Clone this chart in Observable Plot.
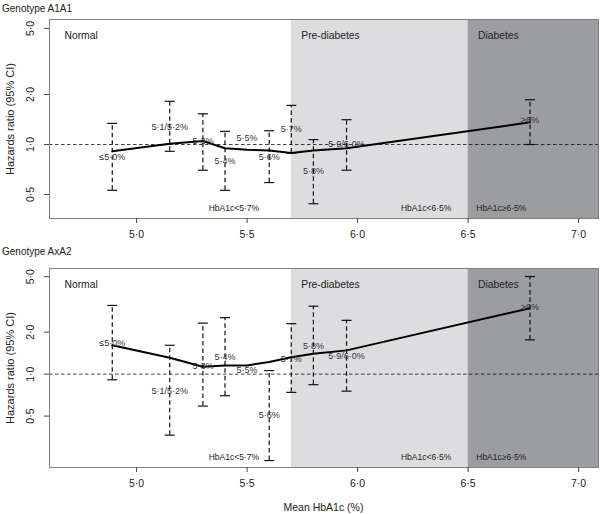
<!DOCTYPE html>
<html><head><meta charset="utf-8">
<script src="https://cdn.jsdelivr.net/npm/d3@7"></script>
<script src="https://cdn.jsdelivr.net/npm/@observablehq/plot@0.6"></script>
<style>
body{margin:0;background:#fff;font-family:"Liberation Sans",Arial,sans-serif;}
#root{position:relative;width:600px;height:514px;overflow:hidden;background:#fff;}
.abs{position:absolute;}
.title{font-size:10px;color:#222;line-height:12px;white-space:nowrap;}
.xlab{font-size:10.5px;color:#222;line-height:14px;white-space:nowrap;}
</style></head><body><div id="root"></div>
<script>
// ---- data ----
const categories = ["≤5·0%","5·1/5·2%","5·3%","5·4%","5·5%","5·6%","5·7%","5·8%","5·9/6·0%","≥6%"];
const meanHbA1c = [4.89, 5.15, 5.30, 5.40, 5.50, 5.60, 5.70, 5.80, 5.95, 6.78];

// Genotype A1A1
const hrA1A1 = [0.91, 1.01, 1.05, 0.95, 0.93, 0.92, 0.89, 0.92, 0.95, 1.36];
const loA1A1 = [0.53, 0.91, 0.70, 0.53, null, 0.59, 0.89, 0.44, 0.70, 1.00];
const hiA1A1 = [1.34, 1.82, 1.53, 1.20, null, 1.21, 1.72, 1.07, 1.41, 1.86];
const labelYA1A1 = [0.84, 1.28, 1.05, 0.79, 1.10, 0.84, 1.24, 0.69, 1.00, 1.40];

// Genotype AxA2
const hrAxA2 = [1.61, 1.31, 1.13, 1.155, 1.155, 1.22, 1.32, 1.40, 1.48, 2.97];
const loAxA2 = [0.91, 0.365, 0.59, 0.70, null, 0.24, 0.74, 0.84, 0.755, 1.76];
const hiAxA2 = [3.11, 1.61, 2.32, 2.54, null, 1.06, 2.30, 3.07, 2.43, 5.01];
const labelYAxA2 = [1.67, 0.75, 1.145, 1.32, 1.063, 0.506, 1.29, 1.58, 1.34, 3.02];

// regions
const regionNames = ["Normal", "Pre-diabetes", "Diabetes"];
const regionStart = [4.606, 5.70, 6.50];
const regionEnd = [5.70, 6.50, 7.09];
const regionNotes = ["HbA1c<5·7%", "HbA1c<6·5%", "HbA1c≥6·5%"];
const regionNoteX = [5.44, 6.31, 6.65];

const xTicks = [5.0, 5.5, 6.0, 6.5, 7.0];
const yTicks = [0.5, 1, 2, 5];

const xDomain = [4.606, 7.09];
const yDomainA1A1 = [0.3585, 5.657];
const yDomainAxA2 = [0.214, 5.72];

// ---- drawing ----
const fmt = d => d.toFixed(1).replace(".", "·");
const regionFills = ["#ffffff", "#dddde0", "#9c9da1"];
const capSymbol = {draw(ctx, size) { const w = Math.sqrt(size / Math.PI); ctx.moveTo(-w, 0); ctx.lineTo(w, 0); }};

function panel(hr, lo, hi, labelY, yDomain) {
  const rows = categories.map((c, i) => ({cat: c, x: meanHbA1c[i], hr: hr[i], lo: lo[i], hi: hi[i], ly: labelY[i]}));
  const bars = rows.filter(d => d.lo != null);
  const regions = regionNames.map((n, i) => ({name: n, x1: regionStart[i], x2: regionEnd[i], fill: regionFills[i], note: regionNotes[i], nx: regionNoteX[i]}));
  return Plot.plot({
    width: 600, height: 244,
    marginTop: 19, marginBottom: 26, marginLeft: 49, marginRight: 2,
    style: {fontFamily: '"Liberation Sans", Arial, sans-serif', background: "transparent", overflow: "visible"},
    x: {domain: xDomain},
    y: {type: "log", domain: yDomain},
    marks: [
      Plot.rect(regions, {x1: "x1", x2: "x2", fill: "fill"}),
      Plot.text(regions.slice(0, 1), {x: "x1", text: "name", frameAnchor: "top", dy: 12, dx: 15, textAnchor: "start", fontSize: 10.3, fill: "#222"}),
      Plot.text(regions.slice(1), {x: "x1", text: "name", frameAnchor: "top", dy: 12, dx: 10, textAnchor: "start", fontSize: 10.3, fill: "#222"}),
      Plot.text(regions, {x: "nx", text: "note", frameAnchor: "bottom", dy: -8, fontSize: 8.5, fill: "#222"}),
      Plot.ruleY([1], {stroke: "#111", strokeWidth: 0.8, strokeDasharray: "3.5,2.5"}),
      Plot.ruleX(bars, {x: "x", y1: "lo", y2: "hi", stroke: "#111", strokeWidth: 1.2, strokeDasharray: "4.5,3"}),
      Plot.dot(bars, {x: "x", y: "lo", symbol: capSymbol, r: 5, stroke: "#111", strokeWidth: 1.2, fill: "none"}),
      Plot.dot(bars, {x: "x", y: "hi", symbol: capSymbol, r: 5, stroke: "#111", strokeWidth: 1.2, fill: "none"}),
      Plot.line(rows, {x: "x", y: "hr", stroke: "#000", strokeWidth: 2}),
      Plot.text(rows, {x: "x", y: "ly", text: "cat", fontSize: 9, fill: "#333"}),
      Plot.frame({stroke: "#808080", strokeWidth: 1}),
      Plot.axisX({ticks: xTicks, tickFormat: fmt, tickSize: 5, tickPadding: 7, fontSize: 10.5, label: null, stroke: "#444", color: "#222"}),
      Plot.axisY({ticks: yTicks, tickFormat: () => "", tickSize: 5, label: null, stroke: "#444"}),
      Plot.text(yTicks, {y: d => d, text: fmt, frameAnchor: "left", dx: -19, rotate: -90, textAnchor: "middle", fontSize: 10.5, fill: "#222"}),
      Plot.text([0], {frameAnchor: "left", dx: -39, rotate: -90, textAnchor: "middle", text: () => "Hazards ratio (95% CI)", fontSize: 11, fill: "#222"})
    ]
  });
}

const root = document.getElementById("root");
function place(el, left, top) { el.classList.add("abs"); el.style.left = left + "px"; el.style.top = top + "px"; root.appendChild(el); return el; }
function div(cls, text) { const d = document.createElement("div"); d.className = cls; d.textContent = text; return d; }

place(panel(hrA1A1, loA1A1, hiA1A1, labelYA1A1, yDomainA1A1), 0, 0);
place(panel(hrAxA2, loAxA2, hiAxA2, labelYAxA2, yDomainAxA2), 0, 249);
place(div("title", "Genotype A1A1"), 2, 3);
place(div("title", "Genotype AxA2"), 2, 246);
const xl = place(div("xlab", "Mean HbA1c (%)"), 0, 500);
xl.style.left = (323.5 - xl.offsetWidth / 2) + "px";
</script>
</body></html>
